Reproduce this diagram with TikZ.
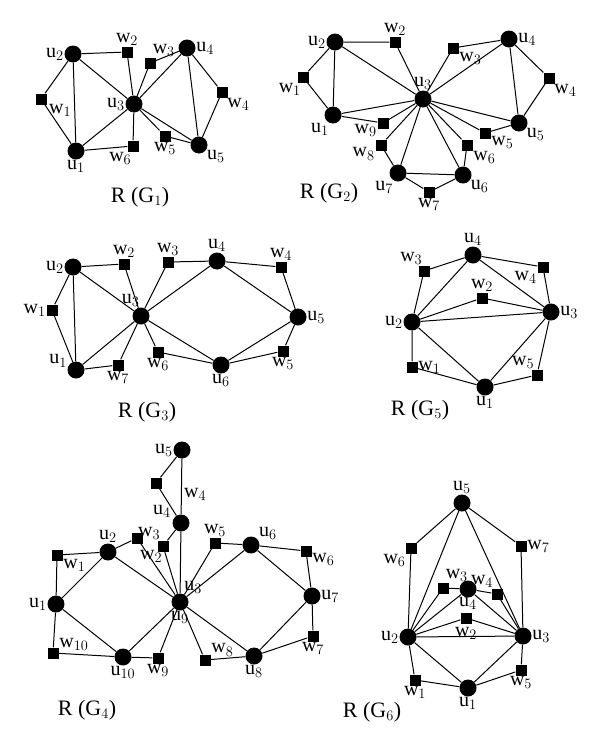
\documentclass[tikz,border=0pt]{standalone}
\usepackage{fontspec}
\setmainfont{Liberation Serif}
\usepackage{tikz}
\newcommand\ulab[1]{$\mathrm{u}_{#1}$}
\newcommand\wlab[1]{$\mathrm{w}_{#1}$}

\begin{document}
\begin{tikzpicture}[x=1pt, y=-1pt,
  vtx/.style={circle, fill=black, minimum size=17pt, inner sep=0pt},
  sq/.style={rectangle, fill=black, minimum size=11pt, inner sep=0pt},
  ttl/.style={font=\fontsize{22}{22}\selectfont, inner sep=0pt},
  every label/.style={font=\fontsize{20}{20}\selectfont, inner sep=0.5pt},
  label distance=0pt,
  edge/.style={line width=1pt}]
  \useasboundingbox (0,0) rectangle (600,747);

  \node[vtx, label=left:\ulab{2}] (au2) at (73,54) {};
  \node[vtx, label=below:\ulab{1}] (au1) at (76,151) {};
  \node[vtx, label=left:\ulab{3}] (au3) at (134,104) {};
  \node[vtx, label=right:\ulab{4}] (au4) at (187,48) {};
  \node[vtx, label=-30:\ulab{5}] (au5) at (199,145) {};
  \node[sq, label={[label distance=2pt]-30:\wlab{1}}] (aw1) at (41,99) {};
  \node[sq, label=above:\wlab{2}] (aw2) at (127,52) {};
  \node[sq, label=70:\wlab{3}] (aw3) at (150,63) {};
  \node[sq, label=-50:\wlab{4}] (aw4) at (222,92) {};
  \node[sq, label=below:\wlab{5}] (aw5) at (165,136) {};
  \node[sq, label=-100:\wlab{6}] (aw6) at (133,146) {};
  \node[ttl] (at) at (140,197) {R (G$_1$)};
  \draw[edge] (au2) -- (aw2) -- (au3) -- (au2) -- (aw1) -- (au1) -- (au2);
  \draw[edge] (au1) -- (au3) -- (aw6) -- (au1);
  \draw[edge] (au3) -- (aw3) -- (au4) -- (au3) -- (aw5) -- (au5) -- (au3);
  \draw[edge] (au4) -- (aw4) -- (au5) -- (au4);

  \node[vtx, label=left:\ulab{2}] (bu2) at (335,42) {};
  \node[vtx, label=-115:\ulab{1}] (bu1) at (333,115) {};
  \node[vtx, label=above:\ulab{3}] (bu3) at (423,99) {};
  \node[vtx, label=right:\ulab{4}] (bu4) at (509,39) {};
  \node[vtx, label=-35:\ulab{5}] (bu5) at (519,123) {};
  \node[vtx, label=-35:\ulab{6}] (bu6) at (463,175) {};
  \node[vtx, label=-120:\ulab{7}] (bu7) at (398,173) {};
  \node[sq, label=-105:\wlab{1}] (bw1) at (303,77) {};
  \node[sq, label=above:\wlab{2}] (bw2) at (395,42) {};
  \node[sq, label=-35:\wlab{3}] (bw3) at (453,48) {};
  \node[sq, label=-50:\wlab{4}] (bw4) at (549,78) {};
  \node[sq, label=-25:\wlab{5}] (bw5) at (485,133) {};
  \node[sq, label=-45:\wlab{6}] (bw6) at (467,145) {};
  \node[sq, label=below:\wlab{7}] (bw7) at (429,192) {};
  \node[sq, label=-160:\wlab{8}] (bw8) at (381,145) {};
  \node[sq, label=-170:\wlab{9}] (bw9) at (383,123) {};
  \node[ttl] (bt) at (329,193) {R (G$_2$)};
  \draw[edge] (bu2) -- (bw2) -- (bu3) -- (bu2) -- (bw1) -- (bu1) -- (bu2);
  \draw[edge] (bu1) -- (bu3) -- (bw9) -- (bu1);
  \draw[edge] (bu3) -- (bw3) -- (bu4) -- (bu3) -- (bu5) -- (bw5) -- (bu3);
  \draw[edge] (bu4) -- (bw4) -- (bu5) -- (bu4);
  \draw[edge] (bu3) -- (bw6) -- (bu6) -- (bu3) -- (bu7) -- (bw8) -- (bu3);
  \draw[edge] (bu7) -- (bu6) -- (bw7) -- (bu7);

  \node[vtx, label=left:\ulab{2}] (cu2) at (73,267) {};
  \node[vtx, label=165:\ulab{1}] (cu1) at (76,370) {};
  \node[vtx, label=95:\ulab{3}] (cu3) at (141,316) {};
  \node[vtx, label=above:\ulab{4}] (cu4) at (217,261) {};
  \node[vtx, label=right:\ulab{5}] (cu5) at (298,317) {};
  \node[vtx, label=below:\ulab{6}] (cu6) at (221,365) {};
  \node[sq, label=left:\wlab{1}] (cw1) at (52,310) {};
  \node[sq, label=above:\wlab{2}] (cw2) at (124,264) {};
  \node[sq, label=above:\wlab{3}] (cw3) at (168,262) {};
  \node[sq, label=above:\wlab{4}] (cw4) at (281,267) {};
  \node[sq, label=below:\wlab{5}] (cw5) at (283,351) {};
  \node[sq, label=below:\wlab{6}] (cw6) at (158,352) {};
  \node[sq, label=below:\wlab{7}] (cw7) at (118,365) {};
  \node[ttl] (ct) at (147,412) {R (G$_3$)};
  \draw[edge] (cu2) -- (cw2) -- (cu3) -- (cu2) -- (cw1) -- (cu1) -- (cu2);
  \draw[edge] (cu1) -- (cu3) -- (cw7) -- (cu1);
  \draw[edge] (cu3) -- (cw3) -- (cu4) -- (cu3) -- (cu6) -- (cw6) -- (cu3);
  \draw[edge] (cu4) -- (cw4) -- (cu5) -- (cu4);
  \draw[edge] (cu6) -- (cu5) -- (cw5) -- (cu6);

  \node[vtx, label=below:\ulab{1}] (eu1) at (485,387) {};
  \node[vtx, label=left:\ulab{2}] (eu2) at (412,322) {};
  \node[vtx, label=right:\ulab{3}] (eu3) at (551,312) {};
  \node[vtx, label=above:\ulab{4}] (eu4) at (473,255) {};
  \node[sq, label=right:\wlab{1}] (ew1) at (412,367) {};
  \node[sq, label=above:\wlab{2}] (ew2) at (482,298) {};
  \node[sq, label=100:\wlab{3}] (ew3) at (424,271) {};
  \node[sq, label=-150:\wlab{4}] (ew4) at (543,267) {};
  \node[sq, label=110:\wlab{5}] (ew5) at (537,375) {};
  \node[ttl] (et) at (420,410) {R (G$_5$)};
  \draw[edge] (eu4) -- (ew3) -- (eu2) -- (eu4) -- (ew4) -- (eu3) -- (eu4);
  \draw[edge] (eu2) -- (ew2) -- (eu3) -- (eu2);
  \draw[edge] (eu2) -- (ew1) -- (eu1) -- (eu2);
  \draw[edge] (eu1) -- (eu3) -- (ew5) -- (eu1);

  \node[vtx, label=left:\ulab{1}] (du1) at (56,604) {};
  \node[vtx, label=above:\ulab{2}] (du2) at (108,552) {};
  \node[vtx, label=65:\ulab{3}, label=below:\ulab{9}] (du3) at (180,602) {};
  \node[vtx, label={[label distance=2pt]155:\ulab{4}}] (du4) at (181,523) {};
  \node[vtx, label=left:\ulab{5}] (du5) at (182,450) {};
  \node[vtx, label=30:\ulab{6}] (du6) at (251,545) {};
  \node[vtx, label=right:\ulab{7}] (du7) at (312,596) {};
  \node[vtx, label=below:\ulab{8}] (du8) at (254,656) {};
  \node[vtx, label=below:\ulab{10}] (du10) at (123,657) {};
  \node[sq, label=-35:\wlab{1}] (dw1) at (57,555) {};
  \node[sq, label={[label distance=6pt]-78:\wlab{2}}] (dw2) at (137,538) {};
  \node[sq, label=110:\wlab{3}] (dw3) at (163,546) {};
  \node[sq, label={[label distance=22pt]-10:\wlab{4}}] (dw4) at (156,483) {};
  \node[sq, label=above:\wlab{5}] (dw5) at (215,543) {};
  \node[sq, label=-15:\wlab{6}] (dw6) at (306,551) {};
  \node[sq, label=below:\wlab{7}] (dw7) at (313,636) {};
  \node[sq, label=30:\wlab{8}] (dw8) at (205,660) {};
  \node[sq, label=below:\wlab{9}] (dw9) at (158,658) {};
  \node[sq, label=20:\wlab{10}] (dw10) at (53,653) {};
  \node[ttl] (dt) at (87,710) {R (G$_4$)};
  \draw[edge] (du5) -- (dw4) -- (du4) -- (du5);
  \draw[edge] (du4) -- (du3) -- (dw3) -- (du4);
  \draw[edge] (du2) -- (dw2) -- (du3) -- (du2) -- (dw1) -- (du1) -- (du2);
  \draw[edge] (du1) -- (dw10) -- (du10) -- (du1);
  \draw[edge] (du10) -- (du3) -- (dw9) -- (du10);
  \draw[edge] (du3) -- (dw8) -- (du8) -- (du3);
  \draw[edge] (du8) -- (dw7) -- (du7) -- (du8);
  \draw[edge] (du7) -- (dw6) -- (du6) -- (du7);
  \draw[edge] (du6) -- (du3) -- (dw5) -- (du6);

  \node[vtx, label=below:\ulab{1}] (fu1) at (468,688) {};
  \node[vtx, label=left:\ulab{2}] (fu2) at (408,637) {};
  \node[vtx, label=right:\ulab{3}] (fu3) at (523,636) {};
  \node[vtx, label={[label distance=-1pt]below:\ulab{4}}] (fu4) at (468,589) {};
  \node[vtx, label=above:\ulab{5}] (fu5) at (462,503) {};
  \node[sq, label=below:\wlab{1}] (fw1) at (415,680) {};
  \node[sq, label={[label distance=3pt]below:\wlab{2}}] (fw2) at (466,618) {};
  \node[sq, label=70:\wlab{3}] (fw3) at (443,588) {};
  \node[sq, label=120:\wlab{4}] (fw4) at (497,594) {};
  \node[sq, label=below:\wlab{5}] (fw5) at (521,670) {};
  \node[sq, label=-130:\wlab{6}] (fw6) at (411,548) {};
  \node[sq, label=right:\wlab{7}] (fw7) at (521,546) {};
  \node[ttl] (ft) at (372,712) {R (G$_6$)};
  \draw[edge] (fu5) -- (fw6) -- (fu2) -- (fu5) -- (fu3) -- (fw7) -- (fu5);
  \draw[edge] (fu2) -- (fw3) -- (fu4) -- (fu2);
  \draw[edge] (fu4) -- (fw4) -- (fu3) -- (fu4);
  \draw[edge] (fu2) -- (fw2) -- (fu3) -- (fu2);
  \draw[edge] (fu2) -- (fw1) -- (fu1) -- (fu2);
  \draw[edge] (fu1) -- (fu3) -- (fw5) -- (fu1);
\end{tikzpicture}
\end{document}
